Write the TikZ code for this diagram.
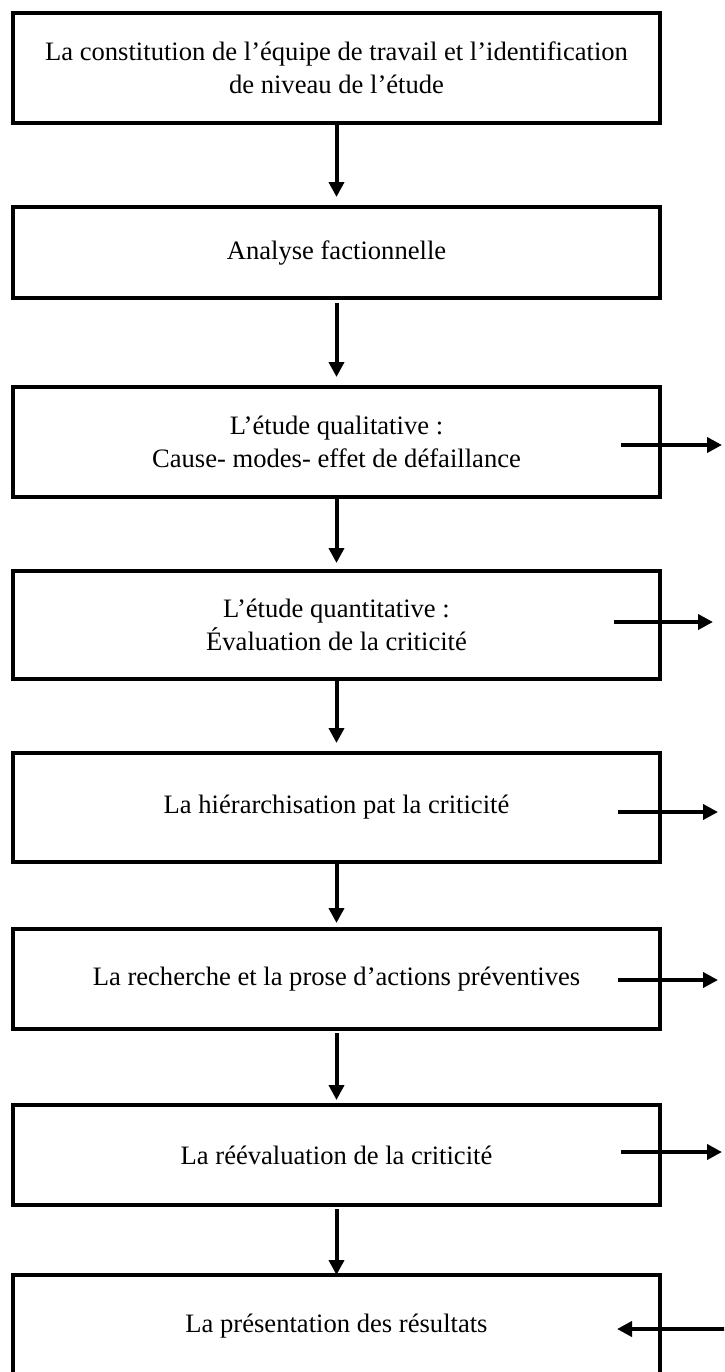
\documentclass[tikz,border=0pt]{standalone}
\usepackage{fontspec}
\setmainfont{Liberation Serif}
\usetikzlibrary{arrows.meta}
\begin{document}
\begin{tikzpicture}[x=0.5pt,y=-0.5pt,
  stepbox/.style={draw=black, line width=2pt, fill=white, outer sep=0pt,
    inner sep=0pt, minimum width=323.5pt, align=center, text=black,
    font=\fontsize{13.3}{16.5}\selectfont},
  flow/.style={draw=black, line width=2pt,
    -{Triangle[length=7.5pt,width=7.5pt]}}]
  % page frame
  \clip (0,0) rectangle (724,1372);
  \fill[white] (0,0) rectangle (724,1372);

  % process steps
  \node[stepbox, minimum height=55pt]   (b1) at (336.5,68)
    {La constitution de l’équipe de travail et l’identification\\de niveau de l’étude};
  \node[stepbox, minimum height=45.5pt] (b2) at (336.5,252.5) {Analyse factionnelle};
  \node[stepbox, minimum height=55pt]   (b3) at (336.5,442)
    {L’étude qualitative :\\Cause- modes- effet de défaillance};
  \node[stepbox, minimum height=54pt]   (b4) at (336.5,625)
    {L’étude quantitative :\\Évaluation de la criticité};
  \node[stepbox, minimum height=54.5pt] (b5) at (336.5,807.5) {La hiérarchisation pat la criticité};
  \node[stepbox, minimum height=50pt]   (b6) at (336.5,979) {La recherche et la prose d’actions préventives};
  \node[stepbox, minimum height=50pt]   (b7) at (336.5,1155) {La réévaluation de la criticité};
  \node[stepbox, minimum height=51.5pt] (b8) at (336.5,1326.5) {La présentation des résultats};

  % main flow
  \draw[flow] (b1.south) -- ([yshift=5pt]b2.north);
  \draw[flow] ([yshift=-2.5pt]b2.south) -- ([yshift=5pt]b3.north);
  \draw[flow] ([yshift=-1pt]b3.south) -- ([yshift=4pt]b4.north);
  \draw[flow] (b4.south) -- ([yshift=5pt]b5.north);
  \draw[flow] (b5.south) -- ([yshift=3pt]b6.north);
  \draw[flow] ([yshift=-2pt]b6.south) -- ([yshift=2.5pt]b7.north);
  \draw[flow] ([yshift=-2pt]b7.south) -- (b8.north);

  % side outputs
  \coordinate (o3s) at (621,445);  \coordinate (o3e) at (722,445);
  \coordinate (o4s) at (614,622);  \coordinate (o4e) at (713,622);
  \coordinate (o5s) at (618,812);  \coordinate (o5e) at (718,812);
  \coordinate (o6s) at (618,980);  \coordinate (o6e) at (718,980);
  \coordinate (o7s) at (621,1152); \coordinate (o7e) at (722,1152);
  \coordinate (i8s) at (728,1329); \coordinate (i8e) at (617,1329);
  \draw[flow] (o3s) -- (o3e);
  \draw[flow] (o4s) -- (o4e);
  \draw[flow] (o5s) -- (o5e);
  \draw[flow] (o6s) -- (o6e);
  \draw[flow] (o7s) -- (o7e);
  \draw[flow] (i8s) -- (i8e);
\end{tikzpicture}
\end{document}
